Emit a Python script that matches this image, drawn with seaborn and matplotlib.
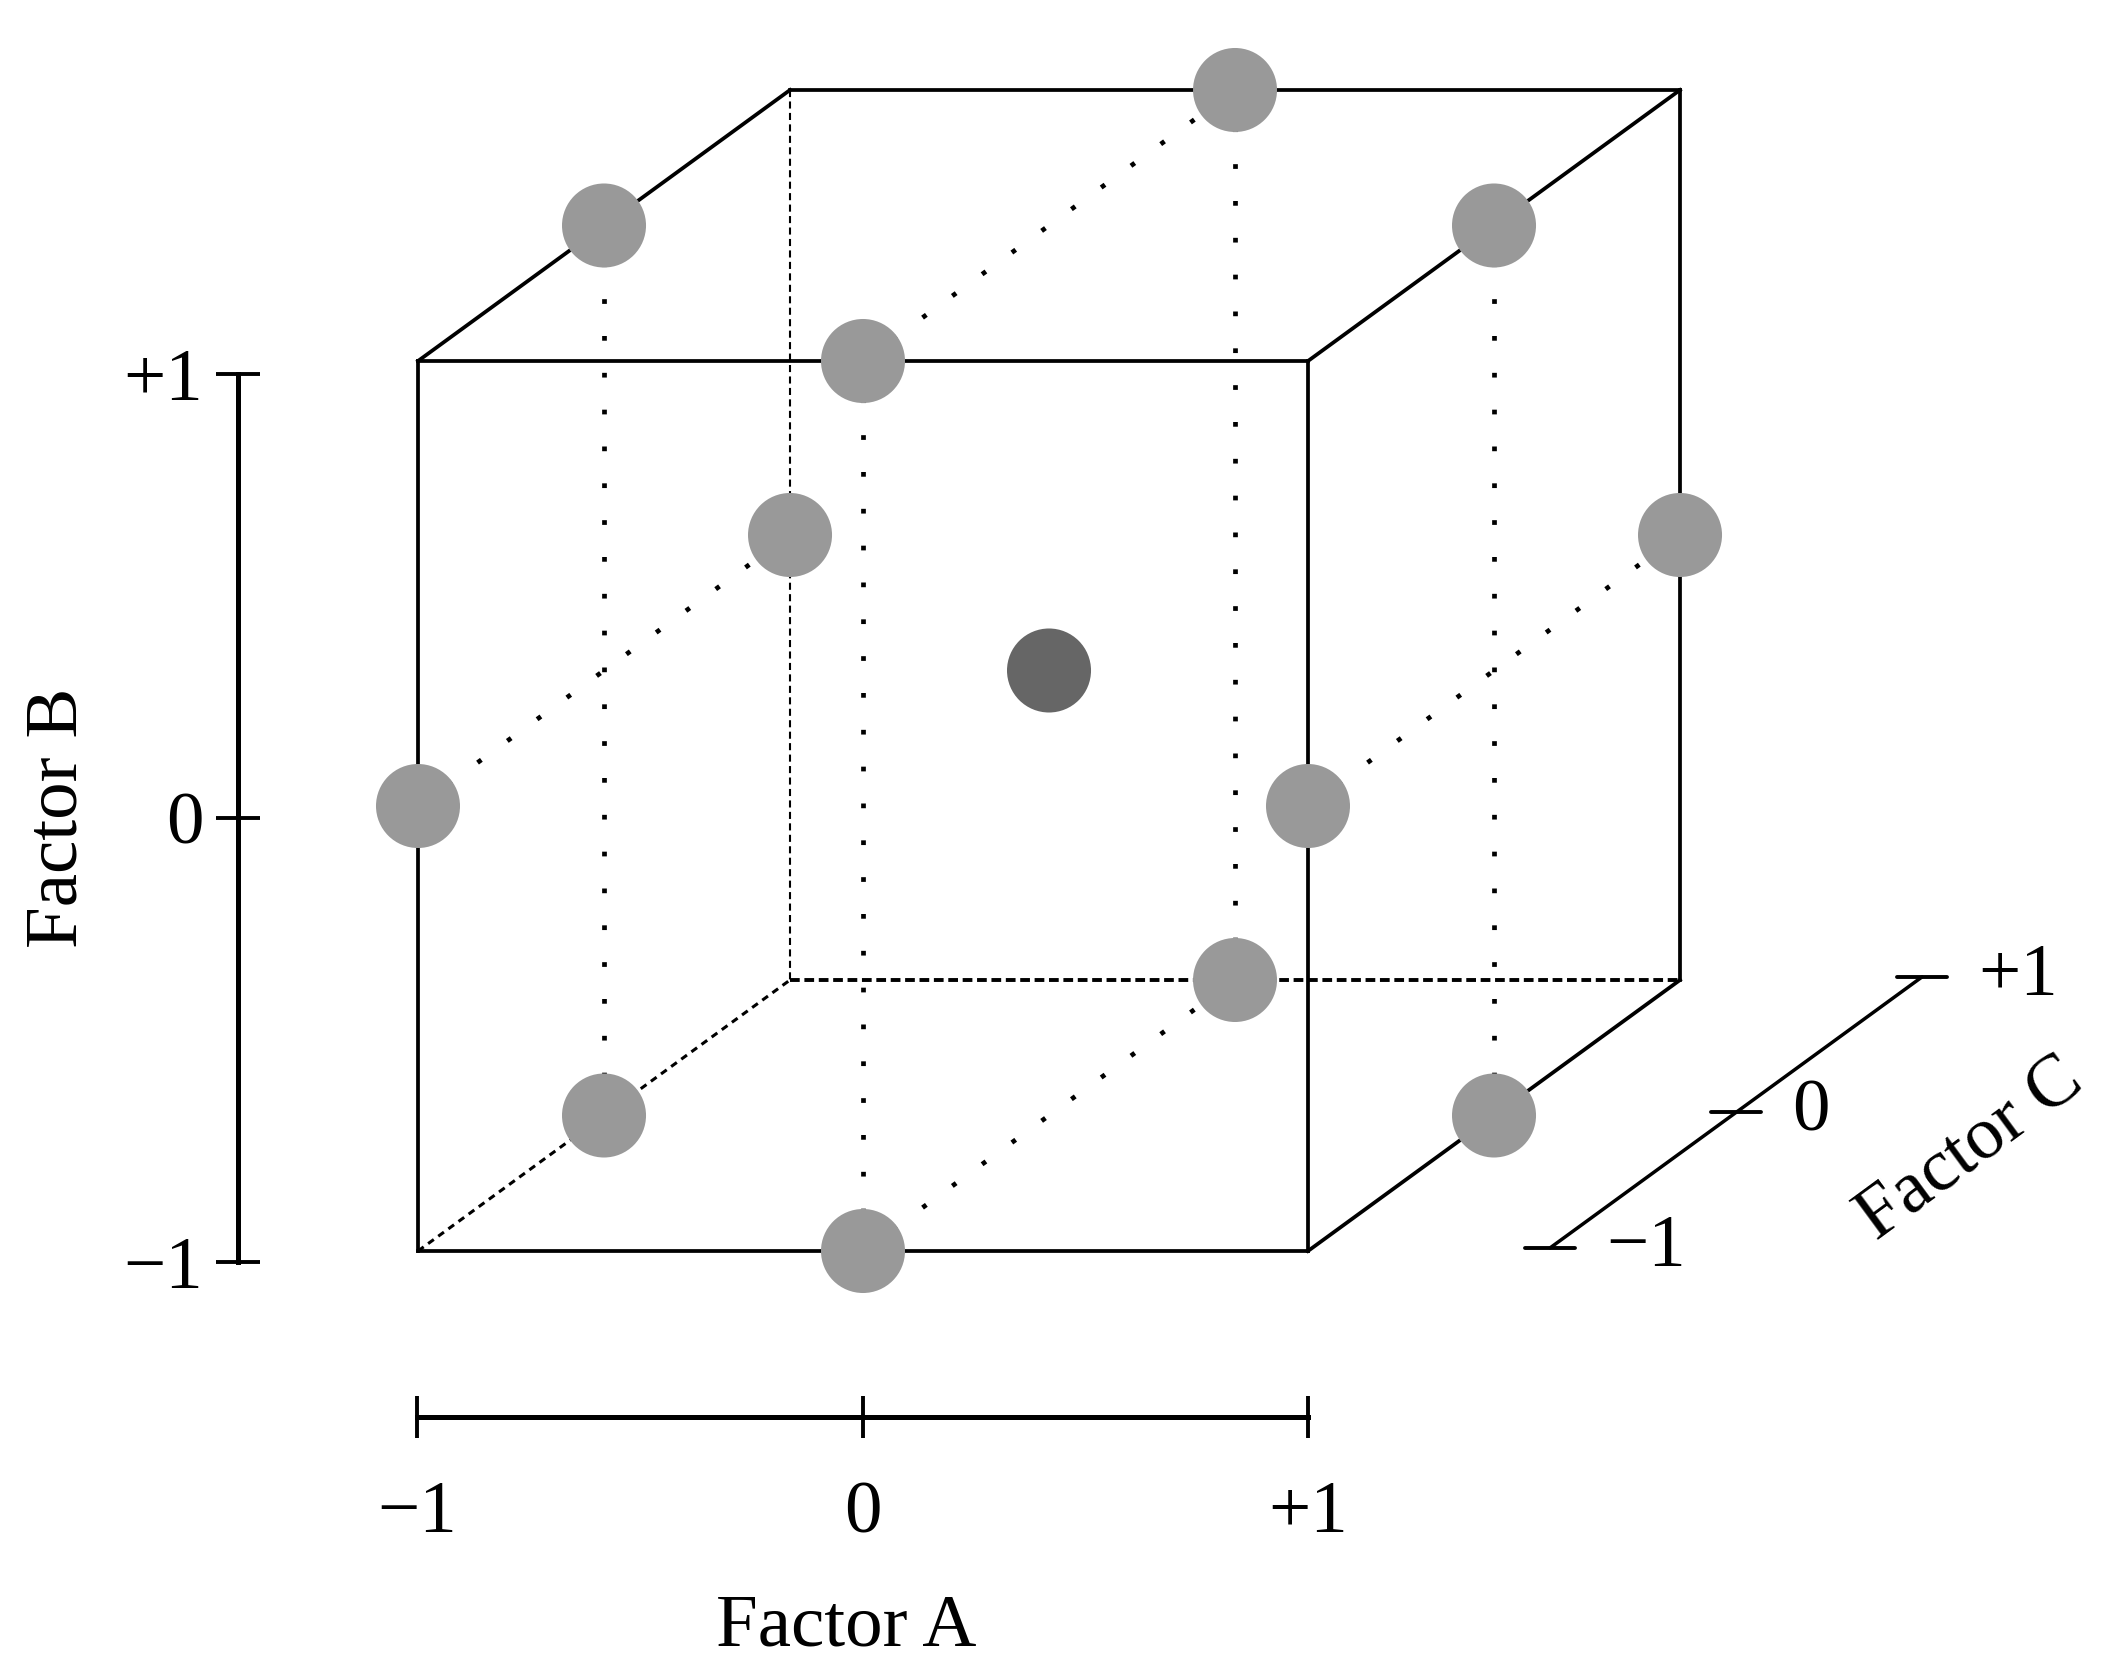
import numpy as np
import pandas as pd
import matplotlib
matplotlib.use("Agg")
import matplotlib.pyplot as plt
import seaborn as sns

# Box-Behnken design, coded levels (12 edge midpoints + centre point)
factor_a = [0, 0, -1, 1, 0, 0, -1, 1, -1, 1, -1, 1, 0]
factor_b = [1, -1, 0, 0, 1, -1, 0, 0, 1, 1, -1, -1, 0]
factor_c = [-1, -1, -1, -1, 1, 1, 1, 1, 0, 0, 0, 0, 0]
point_type = ['edge'] * 12 + ['center']

levels = [-1, 0, 1]
level_labels = ['\u22121', '0', '+1']

# oblique projection: C goes back and up
depth = np.array([0.418, 0.3045])


def proj(a, b, c):
    return a + depth[0] * (c + 1), b + depth[1] * (c + 1)


df = pd.DataFrame({'A': factor_a, 'B': factor_b, 'C': factor_c, 'type': point_type})
df['x'], df['y'] = proj(df['A'], df['B'], df['C'])

sns.set_theme(style='white')
plt.rcParams['font.family'] = ['Liberation Serif', 'DejaVu Serif']
plt.rcParams.update({'text.color': 'black', 'axes.labelcolor': 'black',
                     'xtick.color': 'black', 'ytick.color': 'black',
                     'axes.edgecolor': 'black'})
FS = 54

W, H = 2107, 1672
fig = plt.figure(figsize=(W / 100, H / 100), dpi=100)
ax = fig.add_axes([0, 0, 1, 1])
ax.set_xlim(-863 / 445, (W - 863) / 445)
ax.set_ylim((806 - H) / 445, 806 / 445)
ax.axis('off')

# cube edges
solid_edges = [
    ((-1, -1, -1), (1, -1, -1)), ((1, -1, -1), (1, 1, -1)),
    ((1, 1, -1), (-1, 1, -1)), ((-1, 1, -1), (-1, -1, -1)),
    ((-1, 1, 1), (1, 1, 1)), ((1, 1, 1), (1, -1, 1)),
    ((-1, 1, -1), (-1, 1, 1)), ((1, 1, -1), (1, 1, 1)),
    ((1, -1, -1), (1, -1, 1)),
]
for p, q in solid_edges:
    xs, ys = proj(np.array([p[0], q[0]]), np.array([p[1], q[1]]), np.array([p[2], q[2]]))
    ax.plot(xs, ys, color='black', lw=2.7, solid_capstyle='projecting', zorder=2)

hidden_edges = [
    ((-1, 1, 1), (-1, -1, 1), 1.5, (3.4, 2.1)),
    ((-1, -1, 1), (1, -1, 1), 2.8, (2.5, 1.2)),
    ((-1, -1, -1), (-1, -1, 1), 2.2, (2.3, 1.8)),
]
for p, q, lw, dash in hidden_edges:
    xs, ys = proj(np.array([p[0], q[0]]), np.array([p[1], q[1]]), np.array([p[2], q[2]]))
    ax.plot(xs, ys, color='black', lw=lw, linestyle=(0, dash), zorder=2)

# dotted guide lines between opposite design points
guides = []
for a, c in [(-1, 0), (1, 0), (0, -1), (0, 1)]:
    guides.append(((a, 1, c), (a, -1, c)))
for a, b in [(-1, 0), (1, 0), (0, -1), (0, 1)]:
    guides.append(((a, b, -1), (a, b, 1)))
for p, q in guides:
    xs, ys = proj(np.array([p[0], q[0]]), np.array([p[1], q[1]]), np.array([p[2], q[2]]))
    ax.plot(xs, ys, color='black', lw=3.4, linestyle=(0, (1, 6.8)), zorder=1)

# design points
sns.scatterplot(data=df, x='x', y='y', hue='type',
                palette={'edge': '#999999', 'center': '#666666'},
                s=3660, linewidth=0, legend=False, zorder=5, ax=ax)
ax.set_xlabel('')
ax.set_ylabel('')

# Factor C scale (diagonal)
c_start = np.array([1.544, -0.993])
c_pts = np.array([c_start + depth * (c + 1) for c in levels])
ax.plot(c_pts[[0, -1], 0], c_pts[[0, -1], 1], color='black', lw=2.5, zorder=2)
for (cx, cy), lab in zip(c_pts, level_labels):
    ax.plot([cx - 0.057, cx + 0.057], [cy, cy], color='black', lw=2.8, zorder=2)
    ax.text(cx + 0.057 + 0.07, cy, lab, fontsize=FS, ha='left', va='center')
ax.text(2.49, -0.773, 'Factor C', fontsize=FS, rotation=36.3,
        ha='center', va='center', rotation_mode='anchor')

# Factor B scale (vertical ruler)
axb = fig.add_axes([238 / W, (H - 1262) / H, 0.0005, (1262 - 374) / H])
axb.set_ylim(-1, 1)
axb.patch.set_visible(False)
for s in ['top', 'right', 'bottom']:
    axb.spines[s].set_visible(False)
axb.spines['left'].set_linewidth(3.6)
axb.set_xticks([])
axb.set_yticks(levels, level_labels)
axb.tick_params(axis='y', direction='inout', length=32, width=2.8, pad=9,
                labelsize=FS, left=True)
axb.set_ylabel('Factor B', fontsize=FS, labelpad=22)

# Factor A scale (horizontal ruler)
axa = fig.add_axes([417 / W, (H - 1417) / H, (1308 - 417) / W, 0.0005])
axa.set_xlim(-1, 1)
axa.patch.set_visible(False)
for s in ['top', 'right', 'left']:
    axa.spines[s].set_visible(False)
axa.spines['bottom'].set_linewidth(3.6)
axa.set_yticks([])
axa.set_xticks(levels, level_labels)
axa.tick_params(axis='x', direction='inout', length=30, width=2.8, pad=31,
                labelsize=FS, bottom=True)
axa.set_xlabel('Factor A', fontsize=FS, labelpad=33)
axa.xaxis.label.set_x(0.482)

fig.savefig('out.png', dpi=100)
